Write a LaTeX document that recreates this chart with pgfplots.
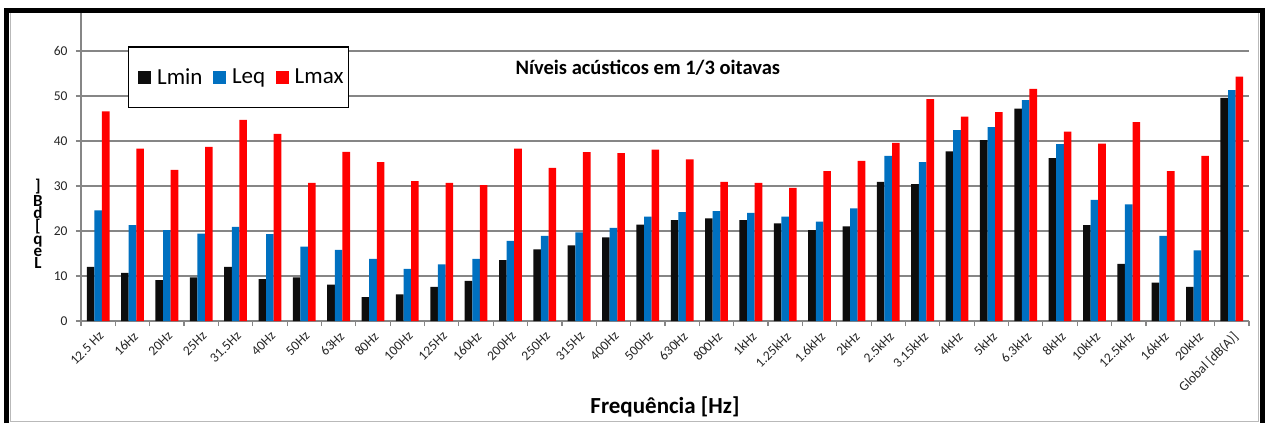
\documentclass[border=0pt]{standalone}
\usepackage{pgfplots}
\pgfplotsset{compat=1.18}
\usepackage{fontspec}
\setmainfont{Carlito}

\definecolor{lmin}{HTML}{0D0D0D}
\definecolor{leq}{HTML}{0070C0}
\definecolor{lmax}{HTML}{FF0000}
\definecolor{gridgray}{HTML}{868686}

\begin{document}
\begin{tikzpicture}[x=1pt,y=1pt]
% the axis box starts at (0,0); the page runs 81pt to its left and 102pt below it
\useasboundingbox (-81,-102) rectangle (1185,321);
\fill[white] (-81,-102) rectangle (1185,321);
% chart frame
\draw[gray!55, line width=0.8pt] (-70.5,-100) rectangle (1177.5,308.5);
\draw[black, line width=5pt] (-74,-102) -- (-74,310.6) -- (1181.8,310.6) -- (1181.8,-102);

% garbled y label as in the original
\node[font=\bfseries\fontsize{17}{12.3}\selectfont, align=center, inner sep=0pt] at (-43,97)
  {]\\B\\d\\{[}\\q\\e\\L};

\begin{axis}[
  scale only axis,
  width=1168pt, height=308pt,
  xmin=-0.5, xmax=33.5, ymin=0, ymax=68.44,
  ybar=0pt, bar width=7.6pt,
  axis lines*=left,
  axis line style={gridgray, line width=1.2pt},
  ymajorgrids, grid style={gridgray, line width=1.3pt},
  ytick={0,10,...,60},
  xtick={0,...,33},
  xticklabels={12.5 Hz,16Hz,20Hz,25Hz,31.5Hz,40Hz,50Hz,63Hz,80Hz,100Hz,125Hz,160Hz,200Hz,250Hz,315Hz,400Hz,500Hz,630Hz,800Hz,1kHz,1.25kHz,1.6kHz,2kHz,2.5kHz,3.15kHz,4kHz,5kHz,6.3kHz,8kHz,10kHz,12.5kHz,16kHz,20kHz,{Global [dB(A)]}},
  minor xtick={-0.5,0.5,...,33.5},
  every major x tick/.append style={draw=none},
  tick align=outside, tick pos=left,
  major tick length=5pt, minor tick length=5pt,
  tick style={gridgray, line width=1.2pt},
  /pgf/number format/assume math mode=true,
  yticklabel style={font=\fontsize{13.5}{15}\selectfont, text=black!85, xshift=-5pt},
  xticklabel style={font=\fontsize{13.5}{15}\selectfont, text=black!85, rotate=45, anchor=north east},
  xlabel={Frequência [Hz]},
  xlabel style={font=\bfseries\fontsize{23}{27}\selectfont, at={(axis description cs:0.5,-0.278)}, anchor=center},
  legend columns=3,
  legend style={at={(0.0402,0.792)}, anchor=west, draw=black, line width=1.3pt,
    font=\fontsize{23}{27}\selectfont, inner xsep=2pt, inner ysep=19.5pt,
    nodes={inner sep=2pt, inner xsep=3pt},
    /tikz/every even column/.append style={column sep=0pt}},
  legend image code/.code={\path (0pt,0pt) (23.5pt,0pt); \fill[#1] (7.4pt,-6.5pt) rectangle (20.4pt,6.5pt);},
]
\addplot[fill=lmin, draw=none] coordinates {
 (0,12.0) (1,10.7) (2,9.1) (3,9.7) (4,12.0) (5,9.3) (6,9.7) (7,8.1) (8,5.3) (9,5.9)
 (10,7.6) (11,8.9) (12,13.5) (13,15.9) (14,16.8) (15,18.6) (16,21.4) (17,22.4) (18,22.8) (19,22.4)
 (20,21.7) (21,20.2) (22,21.0) (23,30.9) (24,30.4) (25,37.7) (26,40.2) (27,47.2) (28,36.2) (29,21.3)
 (30,12.7) (31,8.5) (32,7.6) (33,49.6)};
\addplot[fill=leq, draw=none] coordinates {
 (0,24.6) (1,21.3) (2,20.2) (3,19.4) (4,20.9) (5,19.3) (6,16.5) (7,15.8) (8,13.8) (9,11.6)
 (10,12.6) (11,13.8) (12,17.8) (13,18.9) (14,19.7) (15,20.7) (16,23.2) (17,24.2) (18,24.4) (19,24.0)
 (20,23.2) (21,22.1) (22,25.0) (23,36.7) (24,35.3) (25,42.4) (26,43.1) (27,49.1) (28,39.3) (29,26.9)
 (30,25.9) (31,18.9) (32,15.7) (33,51.3)};
\addplot[fill=lmax, draw=none] coordinates {
 (0,46.6) (1,38.3) (2,33.6) (3,38.7) (4,44.7) (5,41.6) (6,30.7) (7,37.6) (8,35.3) (9,31.1)
 (10,30.7) (11,30.2) (12,38.3) (13,34.0) (14,37.5) (15,37.3) (16,38.1) (17,35.9) (18,30.9) (19,30.7)
 (20,29.6) (21,33.3) (22,35.6) (23,39.6) (24,49.3) (25,45.4) (26,46.4) (27,51.6) (28,42.1) (29,39.4)
 (30,44.2) (31,33.3) (32,36.7) (33,54.3)};
\legend{Lmin,Leq,Lmax}
\node[font=\bfseries\fontsize{20.5}{24}\selectfont] at (axis cs:16,56.2) {Níveis acústicos em 1/3 oitavas};
\end{axis}
\end{tikzpicture}
\end{document}
